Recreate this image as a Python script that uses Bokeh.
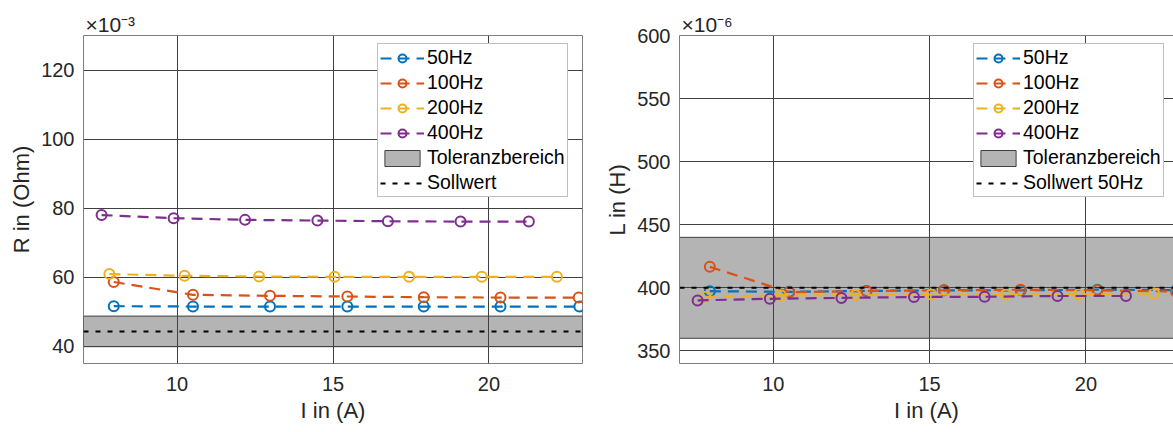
from bokeh.plotting import figure
from bokeh.layouts import row
from bokeh.models import (FixedTicker, Legend, LegendItem, LinearAxis,
                          Range1d)
from bokeh.embed import file_html
from bokeh.resources import INLINE

FONT = "Liberation Sans"

# ---------------- data ----------------
series_labels = ["50Hz", "100Hz", "200Hz", "400Hz"]
series_colors = ["#0072BD", "#D95319", "#EDB120", "#7E2F8E"]

# current I in A (per frequency)
current_50 = [7.97, 10.51, 12.98, 15.46, 17.91, 20.37, 22.90]
current_100 = [7.97, 10.51, 12.98, 15.46, 17.91, 20.37, 22.88]
current_200 = [7.83, 10.24, 12.63, 15.05, 17.44, 19.77, 22.18]
current_400 = [7.58, 9.89, 12.18, 14.50, 16.76, 19.09, 21.28]

# resistance R in Ohm x 1e-3
res_50 = [51.6, 51.5, 51.5, 51.5, 51.5, 51.5, 51.5]
res_100 = [58.6, 54.9, 54.6, 54.4, 54.2, 54.1, 54.1]
res_200 = [60.9, 60.4, 60.2, 60.1, 60.1, 60.1, 60.1]
res_400 = [78.0, 77.1, 76.6, 76.4, 76.2, 76.1, 76.1]

# inductance L in H x 1e-6
ind_50 = [397.3, 396.8, 397.5, 398.0, 398.0, 398.5, 398.2]
ind_100 = [416.6, 396.5, 397.5, 398.0, 398.5, 398.0, 397.0]
ind_200 = [392.9, 394.0, 394.2, 394.7, 394.7, 394.8, 395.5]
ind_400 = [390.0, 391.3, 392.0, 392.7, 392.9, 393.5, 393.5]

sollwert_R = 44.3      # x 1e-3 Ohm
sollwert_L = 400.0     # x 1e-6 H
tolerance = 0.10

x_ticks = [10, 15, 20]
y_ticks_R = [40, 60, 80, 100, 120]
y_ticks_L = [350, 400, 450, 500, 550, 600]
x_lim = (7, 23)
x_lim_right_visible = (7, 22.8)
y_lim_R = (35, 130)
y_lim_L = (340, 600)

currents = [current_50, current_100, current_200, current_400]
res_series = [res_50, res_100, res_200, res_400]
ind_series = [ind_50, ind_100, ind_200, ind_400]

GRID = "#404040"
FRAME = "#7f7f7f"
TXT = "#262626"


def make_plot(width, border_left, border_right, xr, yr, yticks, ylabel,
              series, sollwert, soll_label, exp_text, right_cut=False):
    p = figure(width=width, height=432, output_backend="svg",
               toolbar_location=None,
               x_range=Range1d(*xr), y_range=Range1d(*yr),
               min_border_left=border_left, min_border_right=border_right,
               min_border_top=35, min_border_bottom=69)
    p.background_fill_color = "white"
    p.border_fill_color = "white"
    if right_cut:
        p.outline_line_color = None
    else:
        p.outline_line_color = FRAME
        p.outline_line_width = 1

    p.title.text = exp_text
    p.title.align = "left"
    p.title.offset = 2
    p.title.standoff = 0
    p.title.text_font = FONT
    p.title.text_font_size = "21px"
    p.title.text_font_style = "normal"
    p.title.text_color = TXT

    p.xaxis.ticker = FixedTicker(ticks=x_ticks)
    p.yaxis.ticker = FixedTicker(ticks=yticks)
    for ax in (p.xaxis[0], p.yaxis[0]):
        ax.major_tick_line_color = None
        ax.minor_tick_line_color = None
        ax.major_tick_out = 0
        ax.major_tick_in = 0
        ax.axis_line_color = FRAME if right_cut else None
        ax.major_label_text_font = FONT
        ax.major_label_text_font_size = "20px"
        ax.major_label_text_color = TXT
        ax.axis_label_text_font = FONT
        ax.axis_label_text_font_size = "22px"
        ax.axis_label_text_font_style = "normal"
        ax.axis_label_text_color = TXT
    p.xaxis.axis_label = "I in (A)"
    p.yaxis.axis_label = ylabel
    p.xaxis.major_label_standoff = 13
    p.xaxis.axis_label_standoff = 4
    p.yaxis.major_label_standoff = 9
    p.yaxis.axis_label_standoff = 4

    if right_cut:
        top = LinearAxis(ticker=FixedTicker(ticks=[]), axis_line_color=FRAME,
                         major_tick_line_color=None, minor_tick_line_color=None,
                         major_label_text_font_size="0px")
        p.add_layout(top, "above")

    p.xgrid.grid_line_color = GRID
    p.ygrid.grid_line_color = GRID
    p.xgrid.grid_line_width = 1
    p.ygrid.grid_line_width = 1

    items = []
    for label, color, xs, ys in zip(series_labels, series_colors, currents, series):
        lr = p.line(xs, ys, line_color=color, line_width=2.2, line_dash="11 7")
        sr = p.scatter(xs, ys, marker="circle", size=10, fill_color=None,
                       line_color=color, line_width=2)
        items.append(LegendItem(label=label, renderers=[lr, sr]))

    band = p.quad(left=[x_lim[0]], right=[x_lim[1]],
                  bottom=[sollwert * (1 - tolerance)],
                  top=[sollwert * (1 + tolerance)],
                  fill_color="#b4b4b4", line_color=GRID, line_width=1)
    band.level = "image"
    items.append(LegendItem(label="Toleranzbereich", renderers=[band]))

    sl = p.line([x_lim[0], x_lim[1]], [sollwert, sollwert], line_color="black",
                line_width=2, line_dash="5 7")
    items.append(LegendItem(label=soll_label, renderers=[sl]))

    legend = Legend(items=items, location=(294, 166),
                    label_text_font=FONT, label_text_font_size="19.5px",
                    label_text_color="black",
                    glyph_width=44, glyph_height=20, label_height=20,
                    label_standoff=3, spacing=2, padding=2, margin=0,
                    border_line_color=FRAME, border_line_width=1,
                    background_fill_color="white", background_fill_alpha=1)
    p.add_layout(legend)
    return p


p1 = make_plot(600, 83, 18, x_lim, y_lim_R, y_ticks_R, "R in (Ohm)",
               res_series, sollwert_R, "Sollwert", "×10\u207b\u00b3")
p2 = make_plot(573, 79, 0, x_lim_right_visible, y_lim_L, y_ticks_L, "L in (H)",
               ind_series, sollwert_L, "Sollwert 50Hz", "×10\u207b\u2076",
               right_cut=True)

layout = row(p1, p2)
open("out.html", "w").write(file_html(layout, INLINE))
